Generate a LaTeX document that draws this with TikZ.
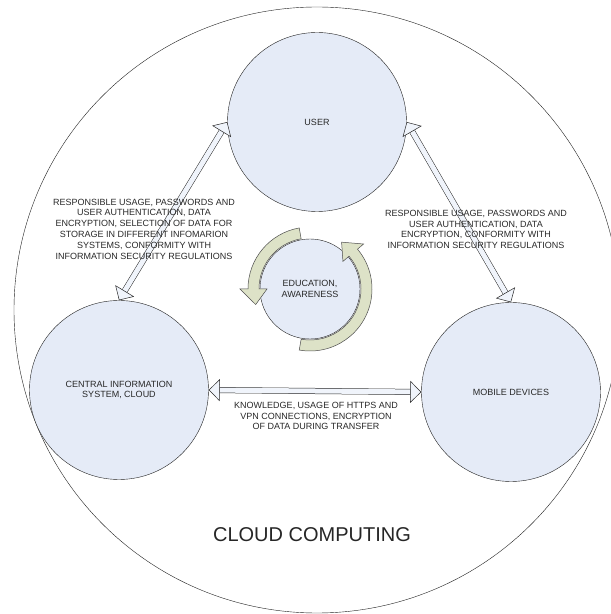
\documentclass[tikz,border=0pt]{standalone}
\usepackage{fontspec}
\setmainfont{Liberation Sans}
\usetikzlibrary{arrows.meta,calc}

\definecolor{zonefill}{RGB}{229,235,247}
\definecolor{linkfill}{RGB}{240,244,251}
\definecolor{cyclefill}{RGB}{221,226,199}
\definecolor{textgray}{RGB}{40,40,40}

\tikzset{
	zone/.style={circle, draw=gray!25!black, fill=zonefill, minimum size=179pt, inner sep=0pt, align=center, text=textgray, font=\fontsize{9}{10.8}\selectfont},
	link/.style={draw=gray!30!black, line width=0.5pt, double=linkfill, double distance=5pt,
		{Triangle[open, fill=linkfill, length=11pt, width=22pt]}-{Triangle[open, fill=linkfill, length=11pt, width=22pt]}},
	note/.style={align=center, text=textgray, font=\fontsize{9}{10.8}\selectfont},
	cycle/.style={draw=gray!60!black, line width=0.5pt, fill=cyclefill}
}

\begin{document}
\begin{tikzpicture}[x=1pt, y=1pt]
	\useasboundingbox (0,0) rectangle (611,614);
	\clip (0,0) rectangle (611,614);
	
	% the big cloud circle
	\node[circle, draw=gray!25!black, minimum size=606pt, inner sep=0pt] (cloud) at (317,304) {};
	\node[font=\fontsize{20}{24}\selectfont, text=black!85] (cloudname) at (312,79) {CLOUD COMPUTING};
	
	% the three parties
	\node[zone] (user) at (317,492) {USER};
	\node[zone] (cis) at (119,224) {CENTRAL INFORMATION\\SYSTEM, CLOUD};
	\node[zone] (mobile) at (511,222) {MOBILE DEVICES};
	
	% links between them
	\draw[link] (user.west) -- (cis.north);
	\draw[link] (user.east) -- (mobile.north);
	\draw[link] (cis.east) -- (mobile.west);
	
	% education in the middle
	\node[zone, minimum size=100pt] (edu) at (310,325) {EDUCATION,\\AWARENESS};
	\draw[cycle] ($(edu)+(260:62)$) arc[start angle=260, end angle=400, radius=62]
		-- ($(edu)+(400:70)$) -- ($(edu)+(416:56.5)$) -- ($(edu)+(400:43)$)
		-- ($(edu)+(400:51)$) arc[start angle=400, end angle=260, radius=51] -- cycle;
	\draw[cycle] ($(edu)+(100:62)$) arc[start angle=100, end angle=180, radius=62]
		-- ($(edu)+(180:70)$) -- ($(edu)+(196:56.5)$) -- ($(edu)+(180:43)$)
		-- ($(edu)+(180:51)$) arc[start angle=180, end angle=100, radius=51] -- cycle;
	
	% texts on the links
	\node[note] (usercis) at (144,385) {RESPONSIBLE USAGE, PASSWORDS AND\\USER AUTHENTICATION, DATA\\ENCRYPTION, SELECTION OF DATA FOR\\STORAGE IN DIFFERENT INFOMARION\\SYSTEMS, CONFORMITY WITH\\INFORMATION SECURITY REGULATIONS};
	\node[note] (usermobile) at (476,384.5) {RESPONSIBLE USAGE, PASSWORDS AND\\USER AUTHENTICATION, DATA\\ENCRYPTION, CONFORMITY WITH\\INFORMATION SECURITY REGULATIONS};
	\node[note] (cismobile) at (316,198) {KNOWLEDGE, USAGE OF HTTPS AND\\VPN CONNECTIONS, ENCRYPTION\\OF DATA DURING TRANSFER};
	
\end{tikzpicture}
\end{document}
